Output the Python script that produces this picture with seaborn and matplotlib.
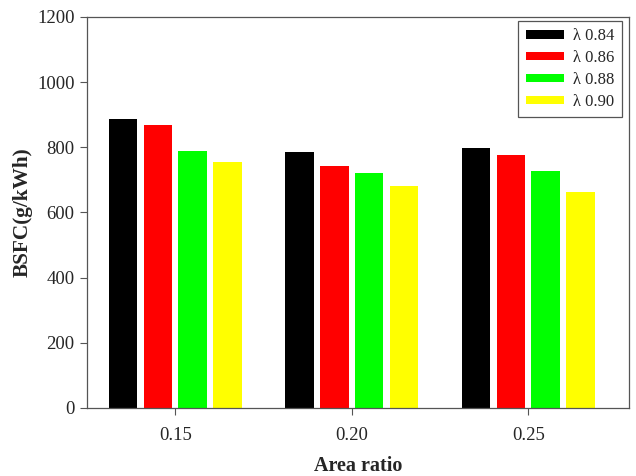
import matplotlib
matplotlib.use('Agg')
import matplotlib.pyplot as plt
import seaborn as sns
import pandas as pd

# data
area_ratio = ['0.15', '0.20', '0.25']
lambda_labels = ['\u03bb 0.84', '\u03bb 0.86', '\u03bb 0.88', '\u03bb 0.90']
bsfc_084 = [887, 786, 798]
bsfc_086 = [869, 743, 777]
bsfc_088 = [789, 720, 727]
bsfc_090 = [755, 682, 663]
bar_colors = ['#000000', '#ff0000', '#00ff00', '#ffff00']

rows = []
for lab, vals in zip(lambda_labels, [bsfc_084, bsfc_086, bsfc_088, bsfc_090]):
    for ar, v in zip(area_ratio, vals):
        rows.append({'Area ratio': ar, 'BSFC': v, 'lambda': lab})
df = pd.DataFrame(rows)

sns.set_style('ticks')
plt.rcParams['font.family'] = ['Liberation Serif', 'DejaVu Serif']

fig = plt.figure(figsize=(6.36, 4.76), dpi=100)
ax = fig.add_axes([0.1368, 0.1429, 0.852, 0.8214])

sns.barplot(data=df, x='Area ratio', y='BSFC', hue='lambda', order=area_ratio,
            hue_order=lambda_labels, palette=bar_colors, width=0.79, gap=0.18,
            errorbar=None, saturation=1, edgecolor='none', ax=ax)

ax.set_ylim(0, 1200)
ax.set_yticks(range(0, 1201, 200))
ax.set_xlim(-0.5, 2.57)
ax.set_xlabel('Area ratio', fontsize=14.5, fontweight='bold', labelpad=8)
ax.set_ylabel('BSFC(g/kWh)', fontsize=15.3, fontweight='bold')
ax.yaxis.set_label_coords(-0.1, 0.5)
ax.tick_params(axis='both', labelsize=13.5, direction='out', length=5,
               width=0.8, color='#555555')
ax.tick_params(axis='x', pad=9)
ax.tick_params(axis='y', pad=4)
for sp in ax.spines.values():
    sp.set_visible(True)
    sp.set_color('#555555')
    sp.set_linewidth(0.9)

leg = ax.legend(loc='upper right', bbox_to_anchor=(0.988, 0.99), fontsize=12,
                frameon=True, fancybox=False, handlelength=2.3,
                handleheight=0.4, labelspacing=0.35, borderpad=0.45,
                handletextpad=0.55, borderaxespad=0.0)
leg.get_frame().set_edgecolor('#555555')
leg.get_frame().set_linewidth(0.9)
leg.get_frame().set_alpha(1)

plt.savefig('out.png', dpi=100)
